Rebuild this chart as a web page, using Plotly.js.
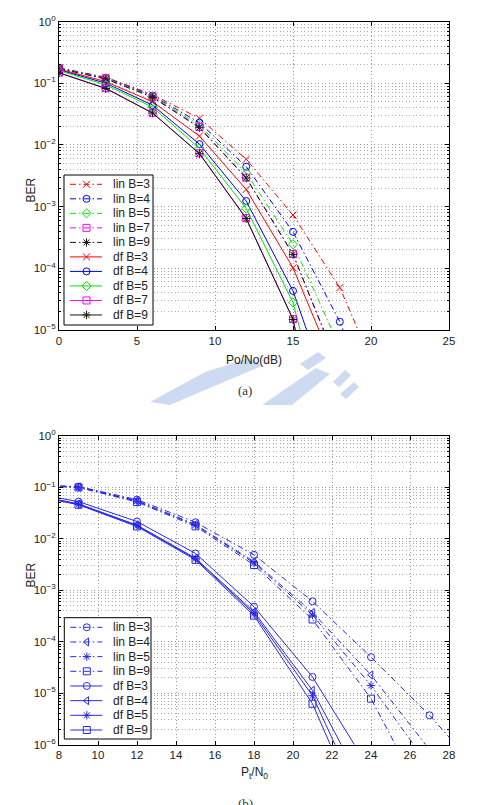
<!DOCTYPE html>
<html>
<head>
<meta charset="utf-8">
<script src="https://cdn.plot.ly/plotly-3.0.1.min.js"></script>
<style>
  html, body { margin: 0; padding: 0; background: #fff; }
  #chart { width: 489px; height: 805px; }
</style>
</head>
<body>
<div id="chart"></div>
<script>
// ---------- Data: panel (a) ----------
const snrA = [0, 3, 6, 9, 12, 15, 18, 21];
const linB3a = [0.178, 0.125, 0.065, 0.027, 0.00585, 0.00073, 4.85e-5, 8.5e-7];
const linB4a = [0.176, 0.122, 0.063, 0.023, 0.00444, 0.00039, 1.36e-5, 1.5e-7];
const linB5a = [0.175, 0.120, 0.061, 0.021, 0.0035, 0.000245, 5.3e-6];
const linB7a = [0.174, 0.118, 0.060, 0.0195, 0.00295, 0.00017, 2.3e-6];
const linB9a = [0.173, 0.117, 0.059, 0.019, 0.0029, 0.000168, 2.2e-6];
const dfB3a  = [0.170, 0.106, 0.050, 0.0139, 0.0019, 1.02e-4, 1.55e-6];
const dfB4a  = [0.165, 0.100, 0.044, 0.0103, 0.00123, 4.3e-5, 2.9e-7];
const dfB5a  = [0.160, 0.094, 0.041, 0.0088, 0.00093, 2.8e-5, 3e-8];
const dfB7a  = [0.148, 0.083, 0.033, 0.0073, 0.00065, 1.5e-5, 5e-9];
const dfB9a  = [0.147, 0.082, 0.0328, 0.0072, 0.00064, 1.48e-5, 4.8e-9];

// ---------- Data: panel (b) ----------
const snrB = [6, 9, 12, 15, 18, 21, 24, 27, 30];
const linB3b = [0.115, 0.104, 0.058, 0.021, 0.0049, 6.1e-4, 5.0e-5, 3.7e-6, 2e-7];
const linB4b = [0.113, 0.102, 0.055, 0.019, 0.0036, 3.7e-4, 2.25e-5, 8e-7];
const linB5b = [0.112, 0.101, 0.054, 0.0185, 0.0034, 3.3e-4, 1.4e-5, 3.7e-7];
const linB9b = [0.111, 0.100, 0.052, 0.0175, 0.0031, 2.7e-4, 7.8e-6, 5.6e-8];
const dfB3b  = [0.085, 0.053, 0.0217, 0.0052, 4.8e-4, 2.06e-5, 3e-7];
const dfB4b  = [0.080, 0.048, 0.0185, 0.0042, 3.8e-4, 1.13e-5, 8e-8];
const dfB5b  = [0.079, 0.047, 0.0180, 0.0041, 3.5e-4, 8.9e-6, 3e-8];
const dfB9b  = [0.078, 0.046, 0.0174, 0.0039, 3.2e-4, 6.2e-6, 1.5e-8];

const tickValsA = [1e-5, 1e-4, 1e-3, 1e-2, 1e-1, 1];
const tickValsB = [1e-6, 1e-5, 1e-4, 1e-3, 1e-2, 1e-1, 1];
const pow = v => { const e = Math.round(Math.log10(v)); return '10<sup>' + (e < 0 ? '\u2212' + (-e) : e) + '</sup>'; };

// ---------- Styling ----------
const W = 489, H = 805;
const px = x => x / W, py = y => 1 - y / H;
const FONT = 'Liberation Sans, Arial, sans-serif';
const DASHDOT = '6px,3px,1.5px,3px';
const RED = 'rgb(255,0,0)', BLU = 'rgb(0,0,255)', GRN = 'rgb(0,230,0)', MAG = 'rgb(255,0,255)', BLK = 'rgb(25,25,25)';
const BB = 'rgb(40,40,235)';

const seriesA = [
  { x: snrA, y: linB3a, name: 'lin B=3', color: RED, dash: DASHDOT, sym: 'x-thin-open' },
  { x: snrA, y: linB4a, name: 'lin B=4', color: BLU, dash: DASHDOT, sym: 'circle-open' },
  { x: snrA, y: linB5a, name: 'lin B=5', color: GRN, dash: DASHDOT, sym: 'diamond-open' },
  { x: snrA, y: linB7a, name: 'lin B=7', color: MAG, dash: DASHDOT, sym: 'square-open' },
  { x: snrA, y: linB9a, name: 'lin B=9', color: BLK, dash: DASHDOT, sym: 'asterisk-open' },
  { x: snrA, y: dfB3a, name: 'df B=3', color: RED, dash: 'solid', sym: 'x-thin-open' },
  { x: snrA, y: dfB4a, name: 'df B=4', color: BLU, dash: 'solid', sym: 'circle-open' },
  { x: snrA, y: dfB5a, name: 'df B=5', color: GRN, dash: 'solid', sym: 'diamond-open' },
  { x: snrA, y: dfB7a, name: 'df B=7', color: MAG, dash: 'solid', sym: 'square-open' },
  { x: snrA, y: dfB9a, name: 'df B=9', color: BLK, dash: 'solid', sym: 'asterisk-open' }
];
const seriesB = [
  { x: snrB, y: linB3b, name: 'lin B=3', color: BB, dash: DASHDOT, sym: 'circle-open' },
  { x: snrB, y: linB4b, name: 'lin B=4', color: BB, dash: DASHDOT, sym: 'triangle-left-open' },
  { x: snrB, y: linB5b, name: 'lin B=5', color: BB, dash: DASHDOT, sym: 'asterisk-open' },
  { x: snrB, y: linB9b, name: 'lin B=9', color: BB, dash: DASHDOT, sym: 'square-open' },
  { x: snrB, y: dfB3b, name: 'df B=3', color: BB, dash: 'solid', sym: 'circle-open' },
  { x: snrB, y: dfB4b, name: 'df B=4', color: BB, dash: 'solid', sym: 'triangle-left-open' },
  { x: snrB, y: dfB5b, name: 'df B=5', color: BB, dash: 'solid', sym: 'asterisk-open' },
  { x: snrB, y: dfB9b, name: 'df B=9', color: BB, dash: 'solid', sym: 'square-open' }
];

function mk(s, xa, ya) {
  return {
    x: s.x.slice(0, s.y.length), y: s.y, name: s.name, type: 'scatter', mode: 'lines+markers',
    xaxis: xa, yaxis: ya, showlegend: false, cliponaxis: true,
    line: { color: s.color, width: 1, dash: s.dash },
    marker: { symbol: s.sym, size: 7, color: s.color, line: { color: s.color, width: 1 } }
  };
}

const data = [];
seriesA.forEach(s => data.push(mk(s, 'x', 'y')));
seriesB.forEach(s => data.push(mk(s, 'x2', 'y2')));

// ---------- Hand-built legends (compact MATLAB-style rows) ----------
const annotations = [];
function legendBox(series, bx0, by0, bx1, by1, row0, step) {
  data.push({ x: [bx0, bx1, bx1, bx0, bx0], y: [by0, by0, by1, by1, by0], xaxis: 'x3', yaxis: 'y3',
    type: 'scatter', mode: 'lines', fill: 'toself', fillcolor: '#fff', line: { color: '#000', width: 1 },
    showlegend: false, hoverinfo: 'skip' });
  series.forEach((s, i) => {
    const yy = row0 + i * step;
    data.push({ x: [bx0 + 6, bx0 + 38], y: [yy, yy], xaxis: 'x3', yaxis: 'y3', type: 'scatter', mode: 'lines',
      line: { color: s.color, width: 1, dash: s.dash }, showlegend: false, hoverinfo: 'skip' });
    data.push({ x: [bx0 + 22.5], y: [yy], xaxis: 'x3', yaxis: 'y3', type: 'scatter', mode: 'markers',
      marker: { symbol: s.sym, size: 7, color: s.color, line: { color: s.color, width: 1 } }, showlegend: false, hoverinfo: 'skip' });
    annotations.push({ text: s.name, xref: 'paper', yref: 'paper', x: px(bx0 + 47), y: py(yy), xanchor: 'left', yanchor: 'middle',
      showarrow: false, font: { family: FONT, size: 12, color: '#222' } });
  });
}
legendBox(seriesA, 64, 175, 153, 325, 184.3, 14.52);
legendBox(seriesB, 64.3, 617.7, 151, 739, 627.3, 14.67);

const gridCommon = {
  showline: true, linecolor: '#000', linewidth: 1, mirror: 'allticks',
  ticks: 'inside', ticklen: 4, tickcolor: '#000',
  showgrid: true, gridcolor: '#999', griddash: '1px,2.5px', gridwidth: 1,
  zeroline: false, tickfont: { family: FONT, size: 11.5, color: '#222' }
};
const minorLog = { dtick: 'D1', showgrid: true, gridcolor: '#aaa', griddash: '1px,2.5px', ticks: 'inside', ticklen: 2, tickcolor: '#000' };

annotations.push(
  { text: 'BER', xref: 'paper', yref: 'paper', x: px(21), y: py(176), textangle: -90, showarrow: false, font: { family: FONT, size: 12, color: '#222' } },
  { text: 'Po/No(dB)', xref: 'paper', yref: 'paper', x: px(254), y: py(351), yanchor: 'top', showarrow: false, font: { family: FONT, size: 12, color: '#222' } },
  { text: 'BER', xref: 'paper', yref: 'paper', x: px(21), y: py(590), textangle: -90, showarrow: false, font: { family: FONT, size: 12, color: '#222' } },
  { text: 'P<sub>t</sub>/N<sub>0</sub>', xref: 'paper', yref: 'paper', x: px(254), y: py(763), yanchor: 'top', showarrow: false, font: { family: FONT, size: 12, color: '#222' } },
  { text: '(a)', xref: 'paper', yref: 'paper', x: px(245), y: py(390), showarrow: false, font: { family: 'Liberation Serif, Times New Roman, serif', size: 13, color: '#333' } },
  { text: '(b)', xref: 'paper', yref: 'paper', x: px(245), y: py(794), yanchor: 'top', showarrow: false, font: { family: 'Liberation Serif, Times New Roman, serif', size: 13, color: '#333' } }
);

const WM = 'rgba(165,188,232,0.55)';
const poly = pts => 'M ' + pts.map(p => px(p[0]) + ' ' + py(p[1])).join(' L ') + ' Z';

const layout = {
  width: W, height: H, margin: { l: 0, r: 0, t: 0, b: 0 },
  paper_bgcolor: '#fff', plot_bgcolor: 'rgba(0,0,0,0)', showlegend: false,
  font: { family: FONT, color: '#222' },
  xaxis: Object.assign({}, gridCommon, { domain: [px(59), px(449)], range: [0, 25], dtick: 5, anchor: 'y' }),
  yaxis: Object.assign({}, gridCommon, { domain: [py(330), py(21.5)], type: 'log', range: [-5, 0],
    tickmode: 'array', tickvals: tickValsA, ticktext: tickValsA.map(pow), minor: minorLog, anchor: 'x' }),
  xaxis2: Object.assign({}, gridCommon, { domain: [px(59), px(449)], range: [8, 28], dtick: 2, anchor: 'y2' }),
  yaxis2: Object.assign({}, gridCommon, { domain: [py(744.5), py(436)], type: 'log', range: [-6, 0],
    tickmode: 'array', tickvals: tickValsB, ticktext: tickValsB.map(pow), minor: minorLog, anchor: 'x2' }),
  xaxis3: { domain: [0, 1], range: [0, W], visible: false, fixedrange: true, anchor: 'y3' },
  yaxis3: { domain: [0, 1], range: [H, 0], visible: false, fixedrange: true, anchor: 'x3' },
  annotations: annotations,
  shapes: [
    { type: 'path', xref: 'paper', yref: 'paper', layer: 'below', line: { width: 0 }, fillcolor: WM,
      path: poly([[150, 402], [205, 372], [250, 358], [262, 366], [205, 390], [170, 405]]) },
    { type: 'path', xref: 'paper', yref: 'paper', layer: 'below', line: { width: 0 }, fillcolor: WM,
      path: poly([[262, 405], [292, 405], [330, 374], [316, 368]]) },
    { type: 'path', xref: 'paper', yref: 'paper', layer: 'below', line: { width: 0 }, fillcolor: WM,
      path: poly([[300, 364], [318, 352], [326, 358], [308, 370]]) },
    { type: 'path', xref: 'paper', yref: 'paper', layer: 'below', line: { width: 0 }, fillcolor: WM,
      path: poly([[333, 382], [345, 370], [351, 375], [339, 387]]) },
    { type: 'path', xref: 'paper', yref: 'paper', layer: 'below', line: { width: 0 }, fillcolor: WM,
      path: poly([[340, 394], [354, 382], [359, 387], [346, 399]]) }
  ]
};

Plotly.newPlot('chart', data, layout, { staticPlot: true, displayModeBar: false });
</script>
</body>
</html>
